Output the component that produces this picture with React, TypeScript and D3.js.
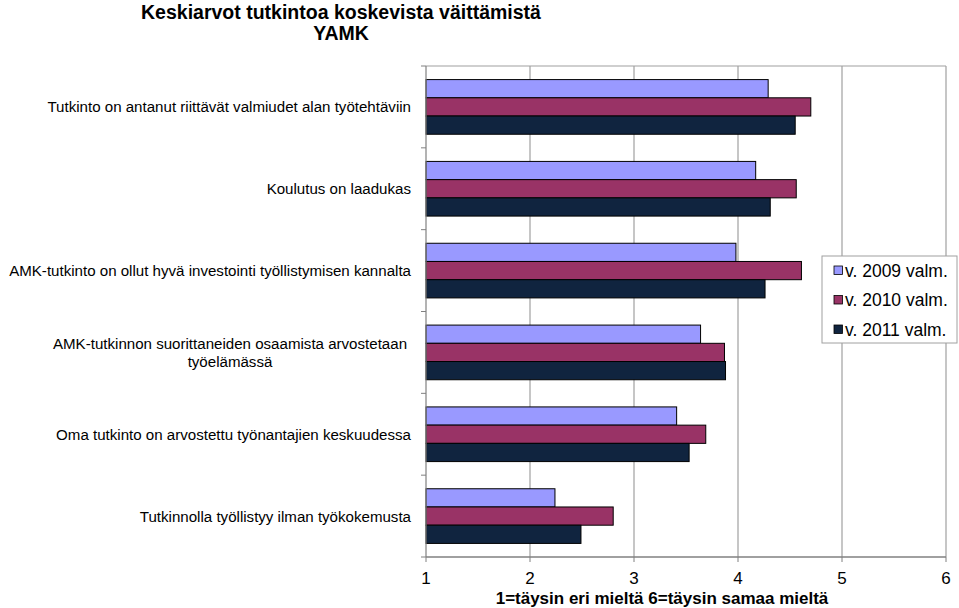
import * as d3 from "d3";

const categories = [
  ["Tutkinto on antanut riittävät valmiudet alan työtehtäviin"],
  ["Koulutus on laadukas"],
  ["AMK-tutkinto on ollut hyvä investointi työllistymisen kannalta"],
  ["AMK-tutkinnon suorittaneiden osaamista arvostetaan", "työelämässä"],
  ["Oma tutkinto on arvostettu työnantajien keskuudessa"],
  ["Tutkinnolla työllistyy ilman työkokemusta"],
];
const seriesNames = ["v. 2009 valm.", "v. 2010 valm.", "v. 2011 valm."];
const values2009 = [4.29, 4.17, 3.98, 3.64, 3.41, 2.24];
const values2010 = [4.7, 4.56, 4.61, 3.87, 3.69, 2.8];
const values2011 = [4.55, 4.31, 4.26, 3.88, 3.53, 2.49];
const xTicks = [1, 2, 3, 4, 5, 6];

const colors = ["#9999ff", "#993366", "#10243f"];
const FONT = "'Liberation Sans', Arial, sans-serif";

const W = 959;
const H = 608;
const plot = { left: 426, right: 946, top: 66, bottom: 557 };

export default function App() {
  const series = [values2009, values2010, values2011];
  const x = d3.scaleLinear().domain([1, 6]).range([plot.left, plot.right]);
  const y = d3
    .scaleBand<number>()
    .domain(categories.map((_, i) => i))
    .range([plot.top, plot.bottom]);
  const bw = y.bandwidth();
  const inner = d3
    .scaleBand<number>()
    .domain([0, 1, 2])
    .range([bw * 0.166, bw * 0.834]);

  const boundaries = categories.map((_, i) => y(i)!).concat([plot.bottom]);

  return (
    <svg
      width={W}
      height={H}
      style={{ position: "absolute", left: 0, top: 0, background: "#fff" }}
      fontFamily={FONT}
    >
      <text x={341} y={19} textAnchor="middle" fontSize={19.5} fontWeight="bold">
        Keskiarvot tutkintoa koskevista väittämistä
      </text>
      <text x={341} y={40} textAnchor="middle" fontSize={19.5} fontWeight="bold">
        YAMK
      </text>

      {/* grid */}
      {xTicks.slice(1).map((t) => (
        <line key={t} x1={x(t)} x2={x(t)} y1={plot.top} y2={plot.bottom} stroke="#a0a0a0" strokeWidth={1.2} />
      ))}
      <line x1={plot.left} x2={plot.right} y1={plot.top} y2={plot.top} stroke="#a0a0a0" strokeWidth={1.2} />

      {/* bars */}
      {series.map((vals, s) =>
        vals.map((v, i) => (
          <rect
            key={`${s}-${i}`}
            x={x(1)}
            y={y(i)! + inner(s)!}
            width={x(v) - x(1)}
            height={inner.bandwidth()}
            fill={colors[s]}
            stroke="#000"
            strokeWidth={1}
          />
        ))
      )}

      {/* axes */}
      <line x1={plot.left} x2={plot.left} y1={plot.top} y2={plot.bottom} stroke="#808080" strokeWidth={1.2} />
      <line x1={plot.left} x2={plot.right} y1={plot.bottom} y2={plot.bottom} stroke="#808080" strokeWidth={1.5} />
      {boundaries.map((b, i) => (
        <line key={i} x1={plot.left - 5} x2={plot.left} y1={b} y2={b} stroke="#808080" />
      ))}
      {xTicks.map((t) => (
        <g key={t}>
          <line x1={x(t)} x2={x(t)} y1={plot.bottom} y2={plot.bottom + 5} stroke="#808080" />
          <text x={x(t)} y={584} textAnchor="middle" fontSize={17}>
            {t}
          </text>
        </g>
      ))}
      <text x={662} y={604} textAnchor="middle" fontSize={17} fontWeight="bold">
        1=täysin eri mieltä 6=täysin samaa mieltä
      </text>

      {/* category labels */}
      {categories.map((lines, i) => {
        const cy = y(i)! + bw / 2;
        const lh = 17.5;
        const y0 = cy - ((lines.length - 1) * lh) / 2 + 5.5;
        const cx = lines.length > 1 ? 230 : 411;
        return (
          <text key={i} fontSize={15.1} textAnchor={lines.length > 1 ? "middle" : "end"}>
            {lines.map((l, j) => (
              <tspan key={j} x={cx} y={y0 + j * lh}>
                {l}
              </tspan>
            ))}
          </text>
        );
      })}

      {/* legend */}
      <rect x={822} y={256} width={135} height={87} fill="#fff" stroke="#a0a0a0" />
      {seriesNames.map((n, s) => (
        <g key={n}>
          <rect x={834} y={266 + s * 29.5} width={8.5} height={8.5} fill={colors[s]} stroke="#000" strokeWidth={0.8} />
          <text x={845} y={276.5 + s * 29.5} fontSize={17.5}>
            {n}
          </text>
        </g>
      ))}
    </svg>
  );
}
